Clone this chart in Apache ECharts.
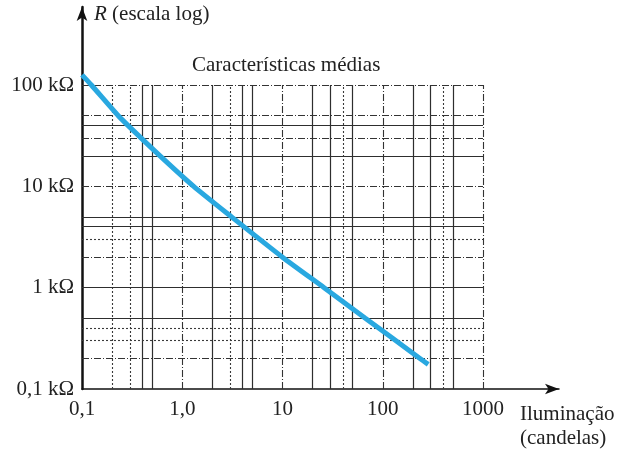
<!DOCTYPE html>
<html>
<head>
<meta charset="utf-8">
<script src="https://cdn.jsdelivr.net/npm/echarts@6/dist/echarts.min.js"></script>
<style>html,body{margin:0;padding:0;background:#fff}#c{width:622px;height:449px}</style>
</head>
<body>
<div id="c"></div>
<script>
// ---- data ----
const illum  = [0.1, 0.124, 0.229, 0.287, 0.6, 1.3, 3.1, 10, 26, 67, 235, 284];        // candelas
const resist = [126, 100, 50, 40, 20, 10, 5, 2, 1, 0.5, 0.2, 0.175];                    // kΩ
const xTickLabels = {'-1': '0,1', '0': '1,0', '1': '10', '2': '100', '3': '1000'};
const yTickLabels = {'-1': '0,1 kΩ', '0': '1 kΩ', '1': '10 kΩ', '2': '100 kΩ'};
// grid line values (by drawing style)
const xGridSolid   = [0.4, 0.5, 2, 4, 5, 20, 30, 50, 200, 300, 500];
const xGridDashed  = [0.2, 0.3, 3, 40, 400];
const xGridDashDot = [1, 10, 100, 1000];
const yGridSolid   = [0.5, 1, 4, 5, 20, 40];
const yGridDashed  = [0.3, 0.4, 3];
const yGridDashDot = [0.2, 2, 10, 30, 50, 100];

const FONT = '"Liberation Serif","DejaVu Serif",serif';
const FS = 21;
const X0 = 0.1, X1 = 1000, Y0 = 0.1, Y1 = 100;

const styles = {
  solid:   {color: '#2e2e2e', width: 1.2, type: 'solid'},
  dashed:  {color: '#3a3a3a', width: 1.1, type: [2, 2]},
  dashdot: {color: '#333', width: 1.1, type: [7, 2, 1, 2]}
};
const gridLines = [];
function addX(vals, st) { vals.forEach(v => gridLines.push([{coord: [v, Y0], lineStyle: styles[st]}, {coord: [v, Y1]}])); }
function addY(vals, st) { vals.forEach(v => gridLines.push([{coord: [X0, v], lineStyle: styles[st]}, {coord: [X1, v]}])); }
addX(xGridSolid, 'solid'); addX(xGridDashed, 'dashed'); addX(xGridDashDot, 'dashdot');
addY(yGridSolid, 'solid'); addY(yGridDashed, 'dashed'); addY(yGridDashDot, 'dashdot');

const chart = echarts.init(document.getElementById('c'), null, {renderer: 'canvas'});
const noDeco = {axisTick: {show: false}, axisLabel: {show: false}, splitLine: {show: false}};
chart.setOption({
  animation: false,
  backgroundColor: '#fff',
  grid: [
    {left: 82, right: 139, top: 85, bottom: 60},
    {left: 82, right: 63, top: 7, bottom: 60}
  ],
  xAxis: [
    {type: 'log', logBase: 10, min: X0, max: X1, gridIndex: 0,
     axisLine: {show: false}, axisTick: {show: false}, splitLine: {show: false},
     axisLabel: {margin: 10, color: '#222', fontFamily: FONT, fontSize: FS,
       formatter: v => xTickLabels[String(Math.round(Math.log10(v)))] || ''}},
    Object.assign({type: 'value', min: 0, max: 1, gridIndex: 1,
      axisLine: {show: true, symbol: ['none', 'arrow'], symbolSize: [8, 14], lineStyle: {color: '#111', width: 1.5}}}, noDeco)
  ],
  yAxis: [
    {type: 'log', logBase: 10, min: Y0, max: Y1, gridIndex: 0,
     axisLine: {show: false}, axisTick: {show: false}, splitLine: {show: false},
     axisLabel: {margin: 8, color: '#222', fontFamily: FONT, fontSize: FS,
       formatter: v => yTickLabels[String(Math.round(Math.log10(v)))] || ''}},
    Object.assign({type: 'value', min: 0, max: 1, gridIndex: 1,
      axisLine: {show: true, symbol: ['none', 'arrow'], symbolSize: [8, 14], lineStyle: {color: '#111', width: 2.5}}}, noDeco)
  ],
  graphic: [
    {type: 'text', left: 192, top: 55, style: {text: 'Características médias', font: FS + 'px ' + FONT, fill: '#222'}},
    {type: 'text', left: 94, top: 4, style: {text: '{i|R} (escala log)', font: FS + 'px ' + FONT, fill: '#222',
      rich: {i: {fontStyle: 'italic', fontFamily: FONT, fontSize: FS, fill: '#222'}}}},
    {type: 'text', left: 520, top: 402, style: {text: 'Iluminação\n(candelas)', font: FS + 'px ' + FONT, fill: '#222', lineHeight: 24}}
  ],
  series: [
    {type: 'line', xAxisIndex: 0, yAxisIndex: 0, data: [], silent: true,
     markLine: {silent: true, symbol: ['none', 'none'], label: {show: false}, z: 1, animation: false, data: gridLines}},
    {type: 'line', xAxisIndex: 0, yAxisIndex: 0, z: 10, clip: false, showSymbol: false, smooth: 0.2,
     lineStyle: {color: '#29a8e0', width: 5},
     data: illum.map((x, i) => [x, resist[i]])}
  ]
});
</script>
</body>
</html>
